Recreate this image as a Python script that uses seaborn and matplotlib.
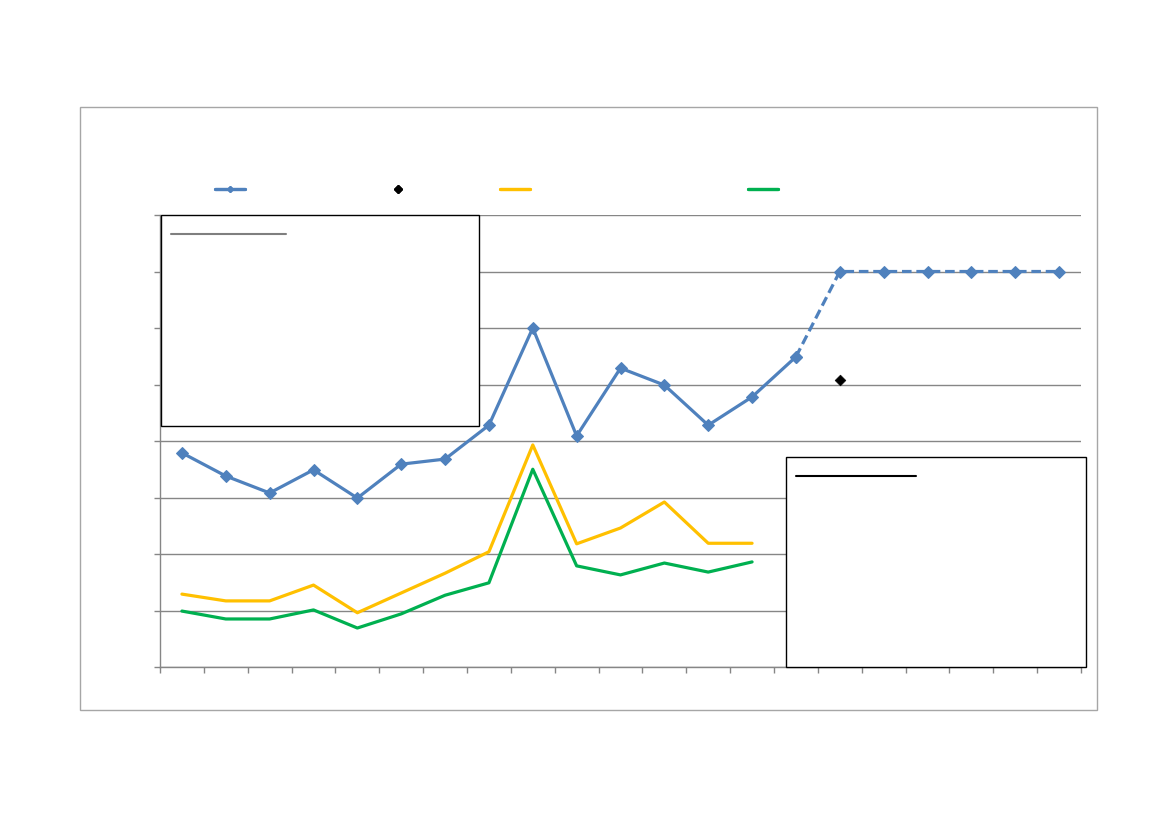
import numpy as np
import pandas as pd
import matplotlib.pyplot as plt
import seaborn as sns
from matplotlib.patches import Rectangle
from matplotlib.lines import Line2D

# Values (y axis 0..8, 21 categories, no text in the source)
blue_actual = [3.79, 3.38, 3.08, 3.49, 2.99, 3.59, 3.68, 4.28, 6.0, 4.09,
               5.29, 4.99, 4.28, 4.78, 5.49]
blue_target = [5.49, 7.0, 7.0, 7.0, 7.0, 7.0, 7.0]
yellow_vals = [1.29, 1.17, 1.17, 1.45, 0.96, 1.31, 1.66, 2.04, 3.93, 2.18,
               2.46, 2.92, 2.19, 2.19]
green_vals = [0.99, 0.85, 0.85, 1.01, 0.69, 0.94, 1.27, 1.49, 3.5, 1.79,
              1.63, 1.84, 1.68, 1.86]
black_point_x = [15]
black_point_y = [5.08]
n_cat = 21

blue_c = "#4f81bd"
yellow_c = "#ffc000"
green_c = "#00b050"

sns.set_style("white")

fig = plt.figure(figsize=(11.69, 8.26), dpi=100)
ax = fig.add_axes([160 / 1169, 1 - 667 / 826, 921 / 1169, 452 / 826])

# outer chart frame
fig.patches.append(Rectangle((80 / 1169, 1 - 710 / 826), 1017 / 1169, 603 / 826,
                             transform=fig.transFigure, fill=False,
                             edgecolor="#a6a6a6", linewidth=1.0))

df_blue = pd.DataFrame({"x": np.arange(len(blue_actual)), "y": blue_actual})
df_target = pd.DataFrame({"x": np.arange(14, 14 + len(blue_target)), "y": blue_target})
df_yellow = pd.DataFrame({"x": np.arange(len(yellow_vals)), "y": yellow_vals})
df_green = pd.DataFrame({"x": np.arange(len(green_vals)), "y": green_vals})

sns.lineplot(data=df_yellow, x="x", y="y", color=yellow_c, linewidth=2.3, ax=ax, zorder=3)
sns.lineplot(data=df_green, x="x", y="y", color=green_c, linewidth=2.3, ax=ax, zorder=3)
sns.lineplot(data=df_blue, x="x", y="y", color=blue_c, linewidth=2.3, marker="D",
             markersize=6, markeredgecolor=blue_c, ax=ax, zorder=4)
sns.lineplot(data=df_target, x="x", y="y", color=blue_c, linewidth=2.3, marker="D",
             markersize=6, markeredgecolor=blue_c, linestyle=(0, (3, 1.5)), ax=ax, zorder=4)
sns.scatterplot(x=black_point_x, y=black_point_y, color="black", marker="D", s=30,
                edgecolor="black", ax=ax, zorder=5)

ax.set_xlim(-0.5, n_cat - 0.5)
ax.set_ylim(0, 8)
ax.set_xticks(np.arange(-0.5, n_cat, 1))
ax.set_yticks(np.arange(0, 9, 1))
ax.set_xticklabels([])
ax.set_yticklabels([])
ax.set_xlabel("")
ax.set_ylabel("")
ax.grid(axis="y", color="#868686", linewidth=1.0)
ax.set_axisbelow(True)
for side in ["top", "right"]:
    ax.spines[side].set_visible(False)
for side in ["left", "bottom"]:
    ax.spines[side].set_color("#868686")
    ax.spines[side].set_linewidth(1.0)
ax.tick_params(axis="both", direction="out", length=4, color="#868686", width=1.0)
ax.tick_params(axis="x", bottom=True)
ax.tick_params(axis="y", left=True)

# empty annotation boxes
ax.add_patch(Rectangle((0.001, 0.533), 0.345, 0.466, transform=ax.transAxes,
                       facecolor="white", edgecolor="black", linewidth=1.0,
                       zorder=6, clip_on=False))
ax.add_line(Line2D([0.012, 0.137], [0.958, 0.958], transform=ax.transAxes,
                   color="#7f7f7f", linewidth=1.5, zorder=7))
ax.add_patch(Rectangle((0.6797, 0.0), 0.3257, 0.4646, transform=ax.transAxes,
                       facecolor="white", edgecolor="black", linewidth=1.0,
                       zorder=6, clip_on=False))
ax.add_line(Line2D([0.6906, 0.8208], [0.4226, 0.4226], transform=ax.transAxes,
                   color="black", linewidth=1.5, zorder=7))

# legend without text
handles = [
    Line2D([], [], color=blue_c, linewidth=2.3, marker="D", markersize=3),
    Line2D([], [], color="black", linestyle="none", marker="D", markersize=4),
    Line2D([], [], color=yellow_c, linewidth=2.3),
    Line2D([], [], color=green_c, linewidth=2.3),
]
centers = [230, 398, 515, 763]
for h, cx in zip(handles, centers):
    leg = fig.legend(handles=[h], labels=[""], loc="center",
                     bbox_to_anchor=(cx / 1169, 1 - 190 / 826), frameon=False,
                     handlelength=2.2, handletextpad=0, borderpad=0)
    fig.add_artist(leg)

fig.savefig("out.png", dpi=100)
